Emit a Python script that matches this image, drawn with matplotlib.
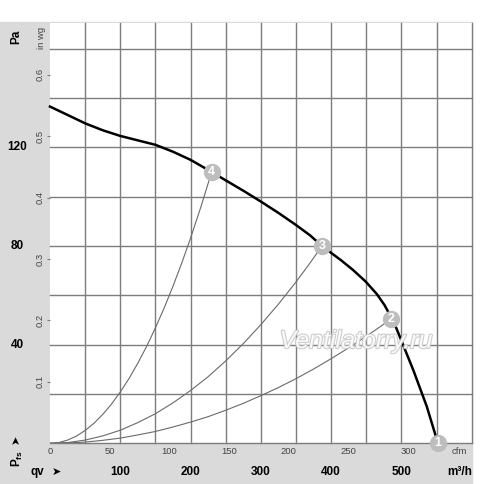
import matplotlib
matplotlib.use('Agg')
import matplotlib.pyplot as plt
import matplotlib.patheffects as pe
from matplotlib.patches import Rectangle
from matplotlib.transforms import blended_transform_factory

plt.rcParams['font.family'] = ['Liberation Sans', 'DejaVu Sans']

# fan curve (m3/h, Pa)
fan_q = [0, 25, 50, 75, 100, 125, 150, 175, 200, 230, 250, 275, 300, 325, 350,
         370, 387, 400, 415, 431, 449, 465, 476, 485, 492, 500, 517, 536, 552]
fan_p = [136.5, 133.1, 129.7, 126.9, 124.6, 122.8, 121, 118.2, 114.9, 110, 106.6,
         102.4, 98, 93.4, 88.5, 84.3, 80, 77.2, 74, 70.3, 65.6, 60.5, 56, 51.3, 47.2,
         41.6, 29.6, 15, 0]

# system curves through the operating points
sys4_q = [0, 12.5, 25, 37.5, 50, 62.5, 75, 87.5, 100, 112.5, 125, 137.5, 150,
          162.5, 175, 187.5, 200, 215, 230]
sys4_p = [0, 0.3, 1.3, 2.9, 5.2, 8.1, 11.7, 15.9, 20.8, 26.3, 32.5, 39.3, 46.8,
          54.9, 63.7, 73.1, 83.2, 96.1, 110]
sys3_q = [0, 25, 50, 75, 100, 125, 150, 175, 200, 225, 250, 275, 300, 325, 350, 370, 387]
sys3_p = [0, 0.3, 1.3, 3.0, 5.3, 8.4, 12, 16.4, 21.4, 27, 33.4, 40.4, 48.1, 56.4,
          65.4, 73.1, 80]
sys2_q = [0, 25, 50, 75, 100, 125, 150, 175, 200, 225, 250, 275, 300, 325, 350,
          375, 400, 425, 450, 470, 485]
sys2_p = [0, 0.1, 0.5, 1.2, 2.1, 3.4, 4.8, 6.6, 8.6, 10.8, 13.4, 16.2, 19.3, 22.6,
          26.2, 30.1, 34.3, 38.7, 43.4, 47.3, 50.4]

op_q = [552, 485, 387, 230]
op_p = [0, 50.4, 80, 110]
op_labels = ['1', '2', '3', '4']

m3h_labels = [100, 200, 300, 400, 500]
pa_labels = [40, 80, 120]
cfm_labels = [0, 50, 100, 150, 200, 250, 300]
inwg_labels = [0.1, 0.2, 0.3, 0.4, 0.5, 0.6]

W, H = 500, 484


def fx(x):
    return x / W


def fy(y):
    return 1 - y / H


fig = plt.figure(figsize=(5, 4.84), dpi=100)
band = '#dadada'
fig.add_artist(Rectangle((0, 0), fx(33.3), fy(22.7), transform=fig.transFigure,
                         color=band, zorder=0))
fig.add_artist(Rectangle((0, 0), fx(471.7), 1 - fy(461.7), transform=fig.transFigure,
                         color=band, zorder=0))

ax = fig.add_axes([fx(50), fy(443.3), fx(421.7), fy(22.7) - fy(443.3)])
ax.set_facecolor('white')
ax.set_xlim(0, 600)
ax.set_ylim(0, 170.5)
for s in ax.spines.values():
    s.set_visible(False)

grid_col = '#7d7d7d'
ax.set_xticks(range(0, 601, 50), minor=True)
ax.set_yticks(range(0, 161, 20), minor=True)
ax.grid(which='minor', color=grid_col, linewidth=1)
ax.tick_params(which='minor', length=0)

# cfm along the bottom, in wg along the left
ax.set_xticks([c * 1.699 for c in cfm_labels])
ax.set_xticklabels([str(c) for c in cfm_labels])
ax.set_yticks([w * 249.09 for w in inwg_labels])
ax.set_yticklabels([str(w) for w in inwg_labels])
ax.tick_params(axis='x', which='major', length=0, pad=3, labelsize=6.8, labelcolor='#444444')
ax.tick_params(axis='y', which='major', length=2, width=0.8, color=grid_col, pad=2,
               labelsize=6.8, labelcolor='#444444', labelrotation=90)
for t in ax.get_yticklabels():
    t.set_va('center')

for q, p in [(sys4_q, sys4_p), (sys3_q, sys3_p), (sys2_q, sys2_p)]:
    ax.plot(q, p, color='#6a6a6a', lw=0.8, zorder=3, solid_joinstyle='round')
ax.plot(fan_q, fan_p, color='black', lw=1.8, zorder=4, clip_on=False,
        solid_joinstyle='round')

ax.plot(op_q, op_p, 'o', ms=12.5, color='#bdbdbd', mec='none', zorder=5, clip_on=False)
for q, p, s in zip(op_q, op_p, op_labels):
    ax.text(q, p, s, color='white', fontsize=9, fontweight='bold', ha='center',
            va='center', zorder=6, clip_on=False)

# watermark
fig.text(fx(356), fy(341), 'Ventilatorry.ru', fontsize=18, style='italic', color='white',
         ha='center', va='center', zorder=2, alpha=0.9,
         path_effects=[pe.withStroke(linewidth=1.6, foreground='#c8c8c8')])

# unit labels
fig.text(fx(459), fy(452), 'cfm', fontsize=6.8, color='#444444', ha='center', va='center')
fig.text(fx(42), fy(38), 'in wg', fontsize=6.8, color='#444444', ha='center', va='center',
         rotation=90)

# bottom band: m3/h
tb = blended_transform_factory(ax.transData, fig.transFigure)
for m in m3h_labels:
    fig.text(m, fy(472), str(m), transform=tb, fontsize=8.5, fontweight='bold',
             ha='center', va='center')
fig.text(fx(460), fy(472), 'm³/h', fontsize=8.5, fontweight='bold', ha='center', va='center')
fig.text(fx(37), fy(472), 'qv', fontsize=8.5, fontweight='bold', ha='center', va='center')
fig.text(fx(56), fy(472), '➤', fontsize=8, ha='center', va='center', family=['DejaVu Sans'])

# left band: Pa
tl = blended_transform_factory(fig.transFigure, ax.transData)
for p in pa_labels:
    fig.text(fx(17), p, str(p), transform=tl, fontsize=8.5, fontweight='bold',
             ha='center', va='center')
fig.text(fx(16), fy(37), 'Pa', fontsize=8.5, fontweight='bold', ha='center', va='center',
         rotation=90)
fig.text(fx(17), fy(458), r'P$_\mathregular{fs}$', fontsize=8.5, fontweight='bold',
         ha='center', va='center', rotation=90)
fig.text(fx(16), fy(439), '➤', fontsize=8, ha='center', va='center', rotation=90,
         family=['DejaVu Sans'])

fig.canvas.draw()
for t in ax.xaxis.get_minor_ticks() + ax.yaxis.get_minor_ticks():
    t.gridline.set_clip_on(False)

fig.savefig('out.png', dpi=100)
